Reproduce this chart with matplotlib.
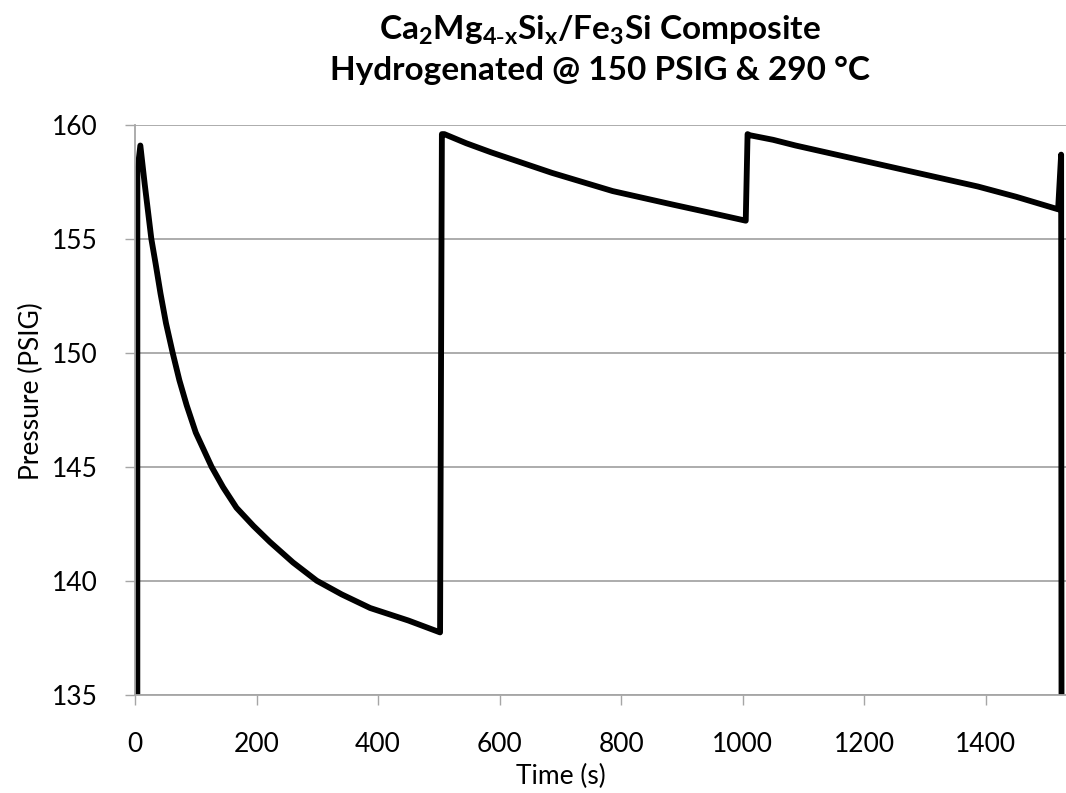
import matplotlib
matplotlib.use("Agg")
import matplotlib.pyplot as plt

plt.rcParams['font.family'] = ['Lato', 'DejaVu Sans']
plt.rcParams['mathtext.default'] = 'regular'

# pressure log (time in s, pressure in PSIG)
time_s = [3.8, 3.9, 8.8, 16, 26.9, 34, 42, 51, 62, 73, 85, 100, 126, 145, 167, 195, 222,
          260, 299, 340, 387, 450, 502,
          505, 509, 545, 586, 636, 686, 736, 786, 836, 886, 946, 1005,
          1008, 1012, 1050, 1087, 1137, 1187, 1237, 1287, 1337, 1387, 1450, 1519,
          1524, 1525]
pressure = [120, 157.95, 159.1, 157.4, 155.0, 153.9, 152.6, 151.3, 150.0, 148.8, 147.7, 146.5, 145.0, 144.1, 143.2, 142.4, 141.7,
            140.8, 140.0, 139.4, 138.8, 138.25, 137.73,
            159.6, 159.6, 159.2, 158.8, 158.35, 157.9, 157.5, 157.1, 156.8, 156.5, 156.15, 155.8,
            159.6, 159.55, 159.35, 159.1, 158.8, 158.5, 158.2, 157.9, 157.6, 157.3, 156.85, 156.3,
            158.7, 120]

y_ticks = [135, 140, 145, 150, 155, 160]
x_ticks = [0, 200, 400, 600, 800, 1000, 1200, 1400]

W, H = 1066, 793
fig = plt.figure(figsize=(W / 100, H / 100), dpi=100)
ax = fig.add_axes([135 / W, 1 - 694.6 / H, (1066 - 135) / W, (694.6 - 125) / H])

ax.plot(time_s, pressure, color='black', lw=4.2, solid_joinstyle='round')

ax.set_xlim(0, 1532)
ax.set_ylim(135, 160)
ax.set_xticks(x_ticks)
ax.set_yticks(y_ticks)
ax.grid(axis='y', color='#a6a6a6', lw=1.3)
ax.set_axisbelow(True)

for s in ['top', 'right']:
    ax.spines[s].set_visible(False)
for s in ['left', 'bottom']:
    ax.spines[s].set_color('#a6a6a6')
    ax.spines[s].set_linewidth(1.3)

ax.tick_params(axis='both', direction='out', length=7, width=1, color='#a6a6a6',
               labelsize=19, labelcolor='black')
ax.tick_params(axis='y', pad=20)
ax.tick_params(axis='x', pad=20)

fig.text(31 / W, 1 - 391 / H, 'Pressure (PSIG)', rotation=90, ha='center', va='center', fontsize=19)
fig.text(561 / W, 1 - 776 / H, 'Time (s)', ha='center', va='center', fontsize=19)

fig.text(600 / W, 1 - 40 / H, r'Ca$_2$Mg$_{4\text{-}x}$Si$_x$/Fe$_3$Si Composite',
         ha='center', va='baseline', fontsize=24, fontweight='bold')
fig.text(600 / W, 1 - 80 / H, 'Hydrogenated @ 150 PSIG & 290 °C',
         ha='center', va='baseline', fontsize=24, fontweight='bold')

fig.savefig('out.png', dpi=100)
